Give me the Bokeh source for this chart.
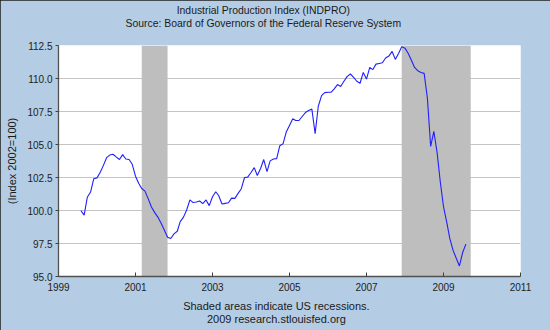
import pandas as pd
from bokeh.plotting import figure
from bokeh.models import FixedTicker, LinearAxis, NumeralTickFormatter
from bokeh.embed import file_html
from bokeh.resources import INLINE

# ---------------- data ----------------
start_month = "1999-08-01"
indpro = [
    100.0, 99.65, 101.0, 101.4, 102.4, 102.47, 102.9, 103.4, 104.0, 104.2, 104.26, 104.06,
    103.86, 104.23, 103.9, 103.86, 103.5, 102.6, 102.05, 101.67, 101.47, 100.9, 100.26, 99.86,
    99.5, 99.03, 98.53, 97.98, 97.88, 98.23, 98.43, 99.16, 99.5, 100.04, 100.8, 100.6,
    100.64, 100.72, 100.52, 100.8, 100.37, 101.04, 101.42, 101.12, 100.49, 100.54, 100.59, 100.94,
    100.92, 101.3, 101.65, 102.5, 102.53, 102.88, 103.25, 102.65, 103.18, 103.86, 102.95, 103.76,
    103.9, 103.93, 104.91, 105.06, 105.94, 106.44, 106.95, 106.82, 106.82, 107.12, 107.42, 107.58,
    107.68, 105.82, 107.9, 108.7, 108.93, 108.96, 108.96, 109.21, 109.54, 109.39, 109.79, 110.14,
    110.34, 110.09, 109.79, 109.64, 110.46, 109.96, 110.84, 110.67, 111.09, 111.14, 111.19, 111.55,
    111.7, 112.05, 111.45, 111.9, 112.4, 112.3, 111.9, 111.4, 110.84, 110.59, 110.46, 110.39,
    108.5, 104.85, 106.0, 104.4, 102.2, 100.3, 99.1, 97.9, 97.0, 96.4, 95.8, 96.8,
    97.45,
]
rec_start = ["2001-03-01", "2007-12-01"]
rec_end = ["2001-11-01", "2009-09-16"]
x_ticks = [1999, 2001, 2003, 2005, 2007, 2009, 2011]
y_ticks = [95.0, 97.5, 100.0, 102.5, 105.0, 107.5, 110.0, 112.5]
title_lines = ["Industrial Production Index (INDPRO)",
               "Source: Board of Governors of the Federal Reserve System"]
footer_lines = ["Shaded areas indicate US recessions.",
                "2009 research.stlouisfed.org"]
y_label = "(Index 2002=100)"


def dec_year(d):
    d = pd.Timestamp(d)
    days = 366 if d.is_leap_year else 365
    return d.year + (d.dayofyear - 1) / days


dates = pd.date_range(start_month, periods=len(indpro), freq="MS")
x = [dec_year(d) for d in dates]
r_left = [dec_year(d) for d in rec_start]
r_right = [dec_year(d) for d in rec_end]

FONT = "Liberation Sans"
BG = "#B5CDE4"
TXT = "#1a1a1a"

p = figure(width=550, height=330, x_range=(x_ticks[0], x_ticks[-1]),
           y_range=(y_ticks[0], y_ticks[-1]), output_backend="svg",
           toolbar_location=None, min_border_left=58, min_border_right=30,
           min_border_top=45, min_border_bottom=54)
p.title = None
p.background_fill_color = "white"
p.border_fill_color = BG
p.outline_line_color = None

p.quad(left=r_left, right=r_right, bottom=y_ticks[0], top=y_ticks[-1],
       fill_color="#BEBEBE", line_color=None)
p.line(x, indpro, line_color="#2020FF", line_width=1.1)

p.xgrid.visible = False
p.ygrid.ticker = FixedTicker(ticks=y_ticks)
p.ygrid.grid_line_color = "#C4C4C4"
p.ygrid.grid_line_width = 1.2

p.xaxis.ticker = FixedTicker(ticks=x_ticks)
p.xaxis.formatter = NumeralTickFormatter(format="0")
p.yaxis.ticker = FixedTicker(ticks=y_ticks)
p.yaxis.formatter = NumeralTickFormatter(format="0.0")
for ax in (p.xaxis[0], p.yaxis[0]):
    ax.axis_line_color = "#505050"
    ax.axis_line_width = 1.3
    ax.major_tick_line_color = "#404040"
    ax.minor_tick_line_color = None
    ax.major_label_text_font = FONT
    ax.major_label_text_font_size = "10px"
    ax.major_label_text_color = "#222222"
p.xaxis.major_tick_in = 4
p.xaxis.major_tick_out = 0
p.xaxis.major_label_standoff = 6
p.yaxis.major_tick_in = 0
p.yaxis.major_tick_out = 3
p.yaxis.major_label_standoff = 3

p.yaxis.axis_label = y_label
p.yaxis.axis_label_text_font = FONT
p.yaxis.axis_label_text_font_size = "11px"
p.yaxis.axis_label_text_font_style = "normal"
p.yaxis.axis_label_text_color = TXT
p.yaxis.axis_label_standoff = 6

# centred text blocks (title / credits), carried by tick-less text axes
x0, x1 = x_ticks[0], x_ticks[-1]
px_per_x = 462 / (x1 - x0)
title_at = round(x0 + (263 - 58) / px_per_x, 2)
footer_at = round(x0 + (276 - 58) / px_per_x, 2)


def text_axis(at, lines, size, standoff, side):
    ax = LinearAxis(ticker=FixedTicker(ticks=[at], minor_ticks=[]),
                    major_label_overrides={at: "\n".join(lines)},
                    axis_line_color=None, major_tick_line_color=None,
                    minor_tick_line_color=None, major_tick_in=0, major_tick_out=0,
                    major_label_standoff=standoff, major_label_text_font=FONT,
                    major_label_text_font_size=size, major_label_text_color=TXT,
                    major_label_text_line_height=1.15)
    p.add_layout(ax, side)


text_axis(title_at, title_lines, "10.4px", 17, "above")
text_axis(footer_at, footer_lines, "11px", 6, "below")

p.styles = {"outline": "1px solid #1e1e1e", "outline-offset": "-1px"}

open("out.html", "w").write(file_html(p, INLINE))
